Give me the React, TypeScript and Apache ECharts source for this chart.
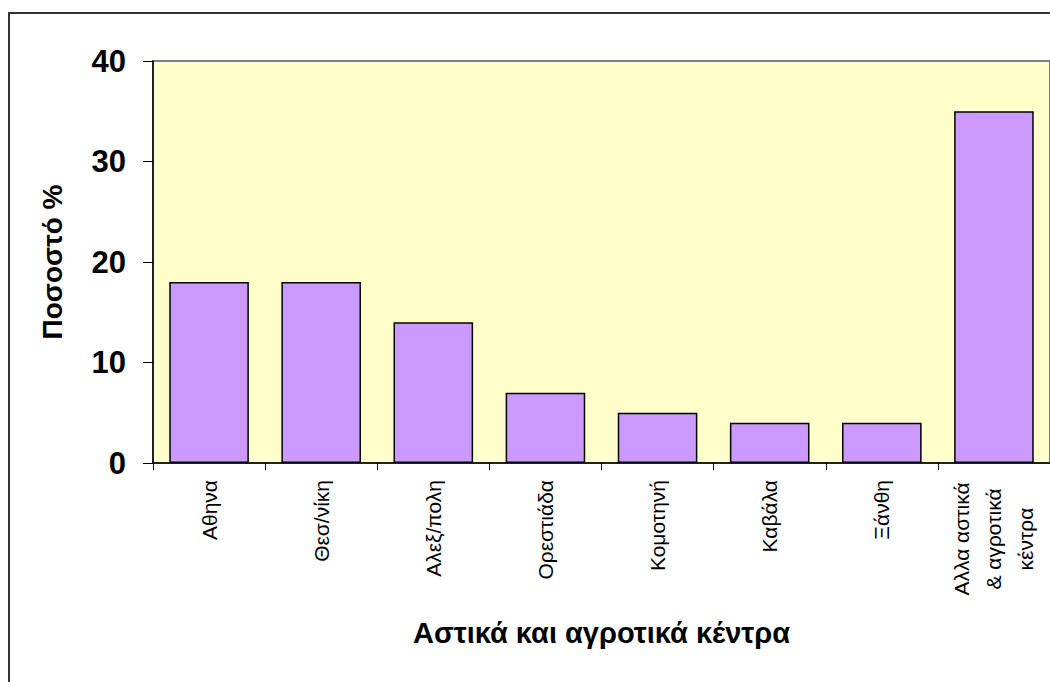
import React, { useEffect, useRef } from "react";
import * as echarts from "echarts";

const categories = [
  "Αθηνα",
  "Θεσ/νίκη",
  "Αλεξ/πολη",
  "Ορεστιάδα",
  "Κομοτηνή",
  "Καβάλα",
  "Ξάνθη",
  "Αλλα αστικά\n& αγροτικά\nκέντρα",
];
const values = [18, 18, 14, 7, 5, 4, 4, 35];
const yTicks = { min: 0, max: 40, interval: 10 };
const xAxisTitle = "Αστικά και αγροτικά κέντρα";
const yAxisTitle = "Ποσοστό %";

const FONT = "'Liberation Sans', Arial, sans-serif";

export default function App() {
  const ref = useRef<HTMLDivElement>(null);
  useEffect(() => {
    if (!ref.current) return;
    const chart = echarts.init(ref.current, undefined, { renderer: "svg" });
    const catData = categories.map((c, i) =>
      i === categories.length - 1
        ? { value: c, textStyle: { align: "center", padding: [0, 118, 0, 0] } }
        : c
    );
    chart.setOption({
      animation: false,
      backgroundColor: "#ffffff",
      graphic: [
        {
          type: "rect",
          shape: { x: 9, y: 13, width: 1100, height: 720 },
          style: { fill: "none", stroke: "#333333", lineWidth: 2 },
          z: 100,
        },
      ],
      grid: {
        left: 153,
        top: 61,
        width: 898,
        height: 402,
        show: true,
        backgroundColor: "#FFFFCC",
        borderColor: "#808080",
        borderWidth: 2,
        containLabel: false,
      },
      xAxis: {
        type: "category",
        data: catData,
        name: xAxisTitle,
        nameLocation: "middle",
        nameGap: 155,
        nameTextStyle: { fontFamily: FONT, fontSize: 29, fontWeight: "bold", color: "#000" },
        axisLine: { show: true, lineStyle: { color: "#000", width: 1.5 } },
        axisTick: { show: true, alignWithLabel: false, length: 7, lineStyle: { color: "#000" } },
        axisLabel: {
          rotate: 90,
          interval: 0,
          margin: 17,
          fontFamily: FONT,
          fontSize: 21,
          lineHeight: 32,
          color: "#000",
        },
        splitLine: { show: false },
      },
      yAxis: {
        type: "value",
        min: yTicks.min,
        max: yTicks.max,
        interval: yTicks.interval,
        name: yAxisTitle,
        nameLocation: "middle",
        nameRotate: 90,
        nameGap: 87,
        nameTextStyle: { fontFamily: FONT, fontSize: 28, fontWeight: "bold", color: "#000" },
        axisLine: { show: true, lineStyle: { color: "#000", width: 1.5 } },
        axisTick: { show: true, length: 10, lineStyle: { color: "#000" } },
        axisLabel: {
          margin: 27,
          fontFamily: FONT,
          fontSize: 31,
          fontWeight: "bold",
          color: "#000",
        },
        splitLine: { show: false },
      },
      series: [
        {
          type: "bar",
          data: values,
          barCategoryGap: "29%",
          itemStyle: { color: "#CC99FF", borderColor: "#000", borderWidth: 1.5 },
        },
      ],
    });
    return () => chart.dispose();
  }, []);
  return (
    <div
      ref={ref}
      style={{ position: "fixed", left: 0, top: 0, width: 1050, height: 682 }}
    />
  );
}
